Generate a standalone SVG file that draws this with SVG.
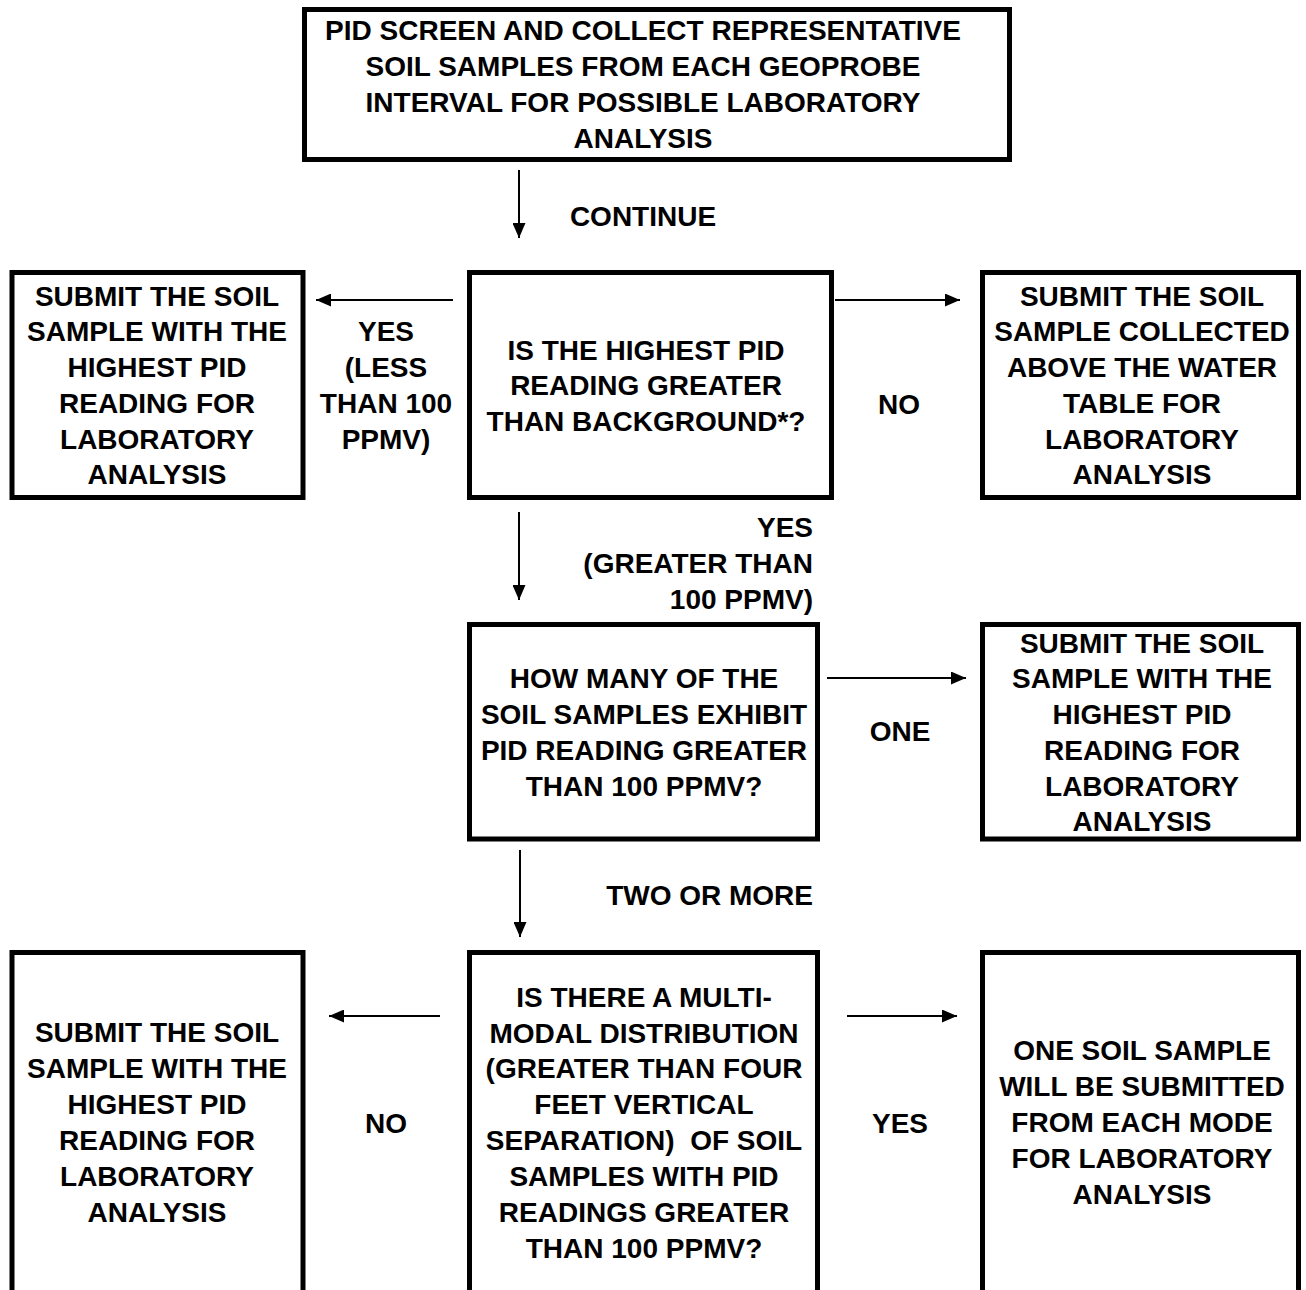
<svg xmlns="http://www.w3.org/2000/svg" width="1306" height="1290" viewBox="0 0 1306 1290">
<defs>
<marker id="ah" viewBox="0 0 15 13" refX="15" refY="6.5" markerWidth="15" markerHeight="13" markerUnits="userSpaceOnUse" orient="auto">
<path d="M0,0 L15,6.5 L0,13 Z" fill="#000"/>
</marker>
</defs>
<style>
.box{fill:#fff;stroke:#000;stroke-width:5}
.t{font-family:"Liberation Sans",Arial,Helvetica,sans-serif;font-weight:bold;font-size:28px;fill:#000;text-anchor:middle;white-space:pre}
.r{text-anchor:end}
.c{stroke:#000;stroke-width:2;fill:none;marker-end:url(#ah)}
</style>
<rect width="1306" height="1290" fill="#fff"/>
<g id="n-start">
<rect class="box" x="304.5" y="9.5" width="705" height="150"/>
<text class="t" x="643" y="40">PID SCREEN AND COLLECT REPRESENTATIVE</text>
<text class="t" x="643" y="76">SOIL SAMPLES FROM EACH GEOPROBE</text>
<text class="t" x="643" y="112">INTERVAL FOR POSSIBLE LABORATORY</text>
<text class="t" x="643" y="148">ANALYSIS</text>
</g>
<g id="n-q1">
<rect class="box" x="469.5" y="272.5" width="362" height="225"/>
<text class="t" x="646" y="360">IS THE HIGHEST PID</text>
<text class="t" x="646" y="395">READING GREATER</text>
<text class="t" x="646" y="431">THAN BACKGROUND*?</text>
</g>
<g id="n-less100">
<rect class="box" x="12" y="272.5" width="291" height="225"/>
<text class="t" x="157" y="306">SUBMIT THE SOIL</text>
<text class="t" x="157" y="341">SAMPLE WITH THE</text>
<text class="t" x="157" y="377">HIGHEST PID</text>
<text class="t" x="157" y="413">READING FOR</text>
<text class="t" x="157" y="449">LABORATORY</text>
<text class="t" x="157" y="484">ANALYSIS</text>
</g>
<g id="n-background">
<rect class="box" x="982.5" y="272.5" width="316" height="225"/>
<text class="t" x="1142" y="306">SUBMIT THE SOIL</text>
<text class="t" x="1142" y="341">SAMPLE COLLECTED</text>
<text class="t" x="1142" y="377">ABOVE THE WATER</text>
<text class="t" x="1142" y="413">TABLE FOR</text>
<text class="t" x="1142" y="449">LABORATORY</text>
<text class="t" x="1142" y="484">ANALYSIS</text>
</g>
<g id="n-q2">
<rect class="box" x="469.5" y="624.5" width="348" height="214.5"/>
<text class="t" x="644" y="688">HOW MANY OF THE</text>
<text class="t" x="644" y="724">SOIL SAMPLES EXHIBIT</text>
<text class="t" x="644" y="760">PID READING GREATER</text>
<text class="t" x="644" y="796">THAN 100 PPMV?</text>
</g>
<g id="n-one">
<rect class="box" x="982.5" y="624.5" width="316" height="214.5"/>
<text class="t" x="1142" y="653">SUBMIT THE SOIL</text>
<text class="t" x="1142" y="688">SAMPLE WITH THE</text>
<text class="t" x="1142" y="724">HIGHEST PID</text>
<text class="t" x="1142" y="760">READING FOR</text>
<text class="t" x="1142" y="796">LABORATORY</text>
<text class="t" x="1142" y="831">ANALYSIS</text>
</g>
<g id="n-q3">
<rect class="box" x="469.5" y="952.5" width="348" height="360"/>
<text class="t" x="644" y="1007">IS THERE A MULTI-</text>
<text class="t" x="644" y="1043">MODAL DISTRIBUTION</text>
<text class="t" x="644" y="1078">(GREATER THAN FOUR</text>
<text class="t" x="644" y="1114">FEET VERTICAL</text>
<text class="t" x="644" y="1150">SEPARATION)  OF SOIL</text>
<text class="t" x="644" y="1186">SAMPLES WITH PID</text>
<text class="t" x="644" y="1222">READINGS GREATER</text>
<text class="t" x="644" y="1258">THAN 100 PPMV?</text>
</g>
<g id="n-nomodal">
<rect class="box" x="12" y="952.5" width="291" height="360"/>
<text class="t" x="157" y="1042">SUBMIT THE SOIL</text>
<text class="t" x="157" y="1078">SAMPLE WITH THE</text>
<text class="t" x="157" y="1114">HIGHEST PID</text>
<text class="t" x="157" y="1150">READING FOR</text>
<text class="t" x="157" y="1186">LABORATORY</text>
<text class="t" x="157" y="1222">ANALYSIS</text>
</g>
<g id="n-multimodal">
<rect class="box" x="982.5" y="952.5" width="316" height="360"/>
<text class="t" x="1142" y="1060">ONE SOIL SAMPLE</text>
<text class="t" x="1142" y="1096">WILL BE SUBMITTED</text>
<text class="t" x="1142" y="1132">FROM EACH MODE</text>
<text class="t" x="1142" y="1168">FOR LABORATORY</text>
<text class="t" x="1142" y="1204">ANALYSIS</text>
</g>
<g id="connectors">
<line class="c" x1="519" y1="170" x2="519" y2="238"/>
<text class="t" x="643" y="226">CONTINUE</text>
<line class="c" x1="453" y1="300" x2="316" y2="300"/>
<text class="t" x="386" y="341">YES</text>
<text class="t" x="386" y="377">(LESS</text>
<text class="t" x="386" y="413">THAN 100</text>
<text class="t" x="386" y="449">PPMV)</text>
<line class="c" x1="835" y1="300" x2="960" y2="300"/>
<text class="t" x="899" y="414">NO</text>
<line class="c" x1="519" y1="512" x2="519" y2="600"/>
<text class="t r" x="813" y="537">YES</text>
<text class="t r" x="813" y="573">(GREATER THAN</text>
<text class="t r" x="813" y="609">100 PPMV)</text>
<line class="c" x1="827" y1="678" x2="966" y2="678"/>
<text class="t" x="900" y="741">ONE</text>
<line class="c" x1="520" y1="850" x2="520" y2="937"/>
<text class="t r" x="813" y="905">TWO OR MORE</text>
<line class="c" x1="440" y1="1016" x2="329" y2="1016"/>
<text class="t" x="386" y="1133">NO</text>
<line class="c" x1="847" y1="1016" x2="957" y2="1016"/>
<text class="t" x="900" y="1133">YES</text>
</g>
</svg>
